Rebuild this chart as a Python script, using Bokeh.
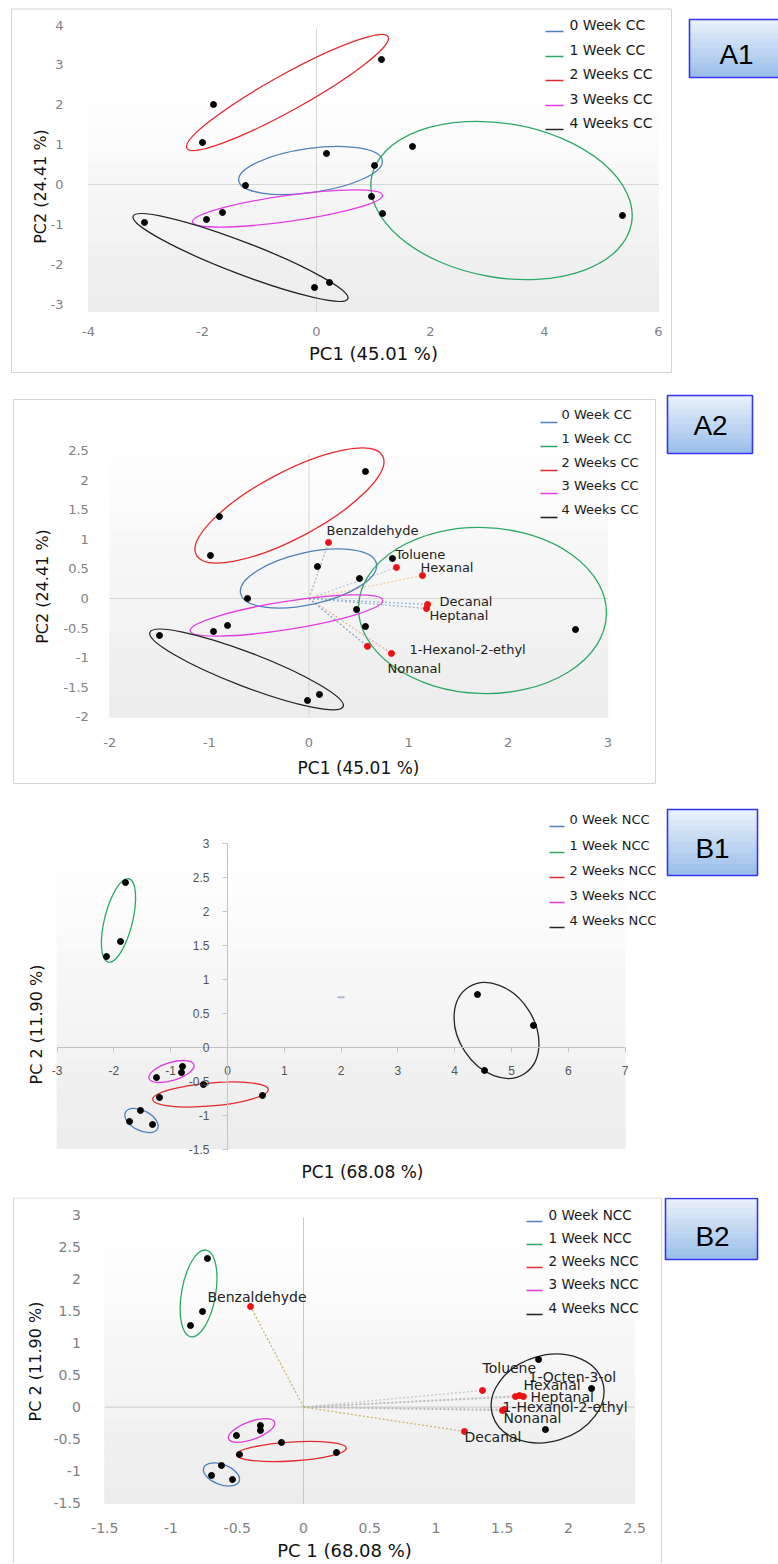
import math
from bokeh.plotting import figure
from bokeh.models import Range1d, LinearAxis, FixedTicker, Label, CustomJSTickFormatter
from bokeh.layouts import column
from bokeh.core.properties import value
from bokeh.embed import file_html
from bokeh.resources import INLINE

# ------------------------------------------------------------------ data
cc_groups = ["0 Week CC", "1 Week CC", "2 Weeks CC", "3 Weeks CC", "4 Weeks CC"]
ncc_groups = ["0 Week NCC", "1 Week NCC", "2 Weeks NCC", "3 Weeks NCC", "4 Weeks NCC"]
sample_group = [0, 0, 0, 1, 1, 1, 2, 2, 2, 3, 3, 3, 4, 4, 4]
group_colors = ["#4f81bd", "#2ca866", "#e42a2d", "#e23ce2", "#262626"]

# A1 : score plot (CC)
a1_pc1 = [0.175, 1.018, -1.246, 1.158, 1.684, 5.368, -1.807, -2.0, 1.14,
          0.965, -1.649, -1.93, -3.018, -0.035, 0.228]
a1_pc2 = [0.778, 0.477, -0.025, -0.728, 0.953, -0.778, 2.007, 1.054, 3.136,
          -0.301, -0.702, -0.878, -0.953, -2.584, -2.459]
a1_ell_pc1 = [-0.105, 3.246, -0.509, -0.509, -1.333]
a1_ell_pc2 = [0.351, -0.401, 2.308, -0.602, -1.831]
a1_ell_w = [145, 264, 230, 192, 230]
a1_ell_h = [44, 154, 36, 26, 32]
a1_ell_angle = [8, -10, 29, 8, -21]
a1_xticks = [-4, -2, 0, 2, 4, 6]
a1_yticks = [-3, -2, -1, 0, 1, 2, 3, 4]

# A2 : biplot (CC)
a2_pc1 = [0.085, 0.507, -0.617, 0.567, 0.838, 2.676, 0.567, -0.899, -0.989,
          0.477, -0.818, -0.959, -1.501, -0.015, 0.105]
a2_pc2 = [0.541, 0.338, 0.0, -0.474, 0.677, -0.525, 2.149, 1.387, 0.728,
          -0.186, -0.457, -0.558, -0.626, -1.726, -1.624]
a2_ell_pc1 = [-0.005, 1.742, -0.196, -0.226, -0.627]
a2_ell_pc2 = [0.338, -0.203, 1.574, -0.288, -1.201]
a2_ell_w = [139, 248, 211, 195, 207]
a2_ell_h = [52, 166, 66, 28, 34]
a2_ell_angle = [12.5, -2, 28, 9, -21]
a2_var_names = ["Benzaldehyde", "Toluene", "Hexanal", "Decanal", "Heptanal",
                "1-Hexanol-2-ethyl", "Nonanal"]
a2_var_pc1 = [0.196, 0.878, 1.139, 1.19, 1.18, 0.828, 0.587]
a2_var_pc2 = [0.948, 0.525, 0.389, -0.10, -0.17, -0.93, -0.81]
a2_lbl_dx = [-2, -1, -2, 12, 3, 18, 20]
a2_lbl_dy = [-12, -13, -8, -3, 7, -4, 22]
a2_line_colors = ["#aac39a", "#c3cbd8", "#f2cf98", "#8fb8e0", "#a3b4cc", "#e8b49a", "#8ea6c6"]
a2_xticks = [-2, -1, 0, 1, 2, 3]
a2_yticks = [-2, -1.5, -1, -0.5, 0, 0.5, 1, 1.5, 2, 2.5]

# B1 : score plot (NCC)
b1_pc1 = [-1.532, -1.725, -1.32, -1.796, -1.884, -2.13, -0.423, -1.197, 0.616,
          -0.792, -0.81, -1.25, 4.401, 5.387, 4.525]
b1_pc2 = [-0.926, -1.088, -1.132, 2.426, 1.559, 1.338, -0.544, -0.735, -0.706,
          -0.279, -0.368, -0.441, 0.779, 0.324, -0.338]
b1_ell_pc1 = [-1.514, -1.919, -0.299, -0.986, 4.736]
b1_ell_pc2 = [-1.074, 1.868, -0.691, -0.353, 0.25]
b1_ell_w = [36, 86, 116, 47, 103]
b1_ell_h = [20, 28, 23, 18, 76]
b1_ell_angle = [-27, 76, 5, 17, -57]
b1_extra_pc1 = [2.0]
b1_extra_pc2 = [0.74]
b1_xticks = [-3, -2, -1, 0, 1, 2, 3, 4, 5, 6, 7]
b1_yticks = [-1.5, -1, -0.5, 0, 0.5, 1, 1.5, 2, 2.5, 3]

# B2 : biplot (NCC)
b2_pc1 = [-0.619, -0.694, -0.536, -0.725, -0.762, -0.853, -0.166, -0.483, 0.249,
          -0.325, -0.325, -0.506, 1.774, 2.174, 1.826]
b2_pc2 = [-0.91, -1.065, -1.128, 2.315, 1.489, 1.271, -0.551, -0.738, -0.707,
          -0.287, -0.364, -0.442, 0.741, 0.29, -0.349]
b2_ell_pc1 = [-0.619, -0.792, -0.091, -0.392, 1.842]
b2_ell_pc2 = [-1.05, 1.77, -0.692, -0.364, 0.134]
b2_ell_w = [38, 88, 110, 49, 115]
b2_ell_h = [20, 34, 19, 18, 86]
b2_ell_angle = [-21, 80, 3.5, 20, 17]
b2_var_names = ["Benzaldehyde", "Toluene", "1-Octen-3-ol", "Hexanal", "Heptanal",
                "1-Hexanol-2-ethyl", "Nonanal", "Decanal"]
b2_var_pc1 = [-0.4, 1.351, 1.63, 1.6, 1.66, 1.517, 1.502, 1.215]
b2_var_pc2 = [1.567, 0.259, 0.18, 0.165, 0.165, -0.037, -0.053, -0.38]
b2_lbl_dx = [-43, 0, 9, 8, 7, -2, 1, 0]
b2_lbl_dy = [-9, -22, -19, -12, 0, -2, 7, 6]
b2_line_colors = ["#c8b46e", "#c8c8c8", "#c8c8c8", "#c0c0c0", "#c0c0c0", "#b8b8b8", "#b8b8b8", "#c8b46e"]
b2_xticks = [-1.5, -1, -0.5, 0, 0.5, 1, 1.5, 2, 2.5]
b2_yticks = [-1.5, -1, -0.5, 0, 0.5, 1, 1.5, 2, 2.5, 3]

# ------------------------------------------------------------------ helpers
W = 778
FONT = "DejaVu Sans"


def panel(T, H, x_zero, x_per, y_zero, y_per):
    fx = lambda px: (px - x_zero) / x_per
    fy = lambda py: (y_zero - py) / y_per
    p = figure(width=W, height=H, x_range=Range1d(fx(0), fx(W)), y_range=Range1d(fy(T + H), fy(T)),
               output_backend="svg", toolbar_location=None,
               x_axis_location=None, y_axis_location=None, min_border=0,
               min_border_left=0, min_border_right=0, min_border_top=0, min_border_bottom=0)
    p.outline_line_color = None
    p.grid.visible = False
    p.background_fill_color = "white"
    p.border_fill_color = "white"
    return p, fx, fy


def tick_fmt():
    return CustomJSTickFormatter(code="return String(tick);")


def axes(p, xticks, yticks, x_at, y_at, xs, ys, size="13px", color="#7f7f7f", font=FONT,
         line_color=None, tick_out=0):
    for ticks, side, stand, loc in ((xticks, "below", xs, y_at), (yticks, "left", ys, x_at)):
        ax = LinearAxis(fixed_location=loc, ticker=FixedTicker(ticks=ticks), formatter=tick_fmt(),
                        bounds=(min(ticks), max(ticks)),
                        axis_line_color=line_color, major_tick_line_color=line_color,
                        minor_tick_line_color=None, major_tick_in=0, major_tick_out=tick_out,
                        major_label_standoff=stand, major_label_text_font=font,
                        major_label_text_font_size=size, major_label_text_color=color)
        p.add_layout(ax, side)


def gradient(p, xl, xr, ytop, ybot, n=16, c0=(255, 255, 255), c1=(236, 236, 236)):
    tops, bots, cols = [], [], []
    for i in range(n):
        tops.append(ytop + (ybot - ytop) * i / n)
        bots.append(ytop + (ybot - ytop) * (i + 1) / n)
        f = (i + 0.5) / n
        c = tuple(round(c0[k] + (c1[k] - c0[k]) * f) for k in range(3))
        cols.append("#%02x%02x%02x" % c)
    p.quad(left=[xl] * n, right=[xr] * n, top=tops, bottom=bots,
           fill_color=cols, line_color=cols, line_width=1)


def zero_lines(p, xl, xr, ytop, ybot, color="#d6d6d6"):
    p.segment(x0=[0, xl], y0=[ytop, 0], x1=[0, xr], y1=[ybot, 0],
              line_color=color, line_width=1)


def label_box(p, fx, fy, l, r, t, b, text, cx, cy, size="28px"):
    n = 12
    tops, bots, cols = [], [], []
    c0, c1 = (236, 242, 251), (152, 190, 232)
    for i in range(n):
        tops.append(fy(t + (b - t) * i / n))
        bots.append(fy(t + (b - t) * (i + 1) / n))
        f = (i + 0.5) / n
        c = tuple(round(c0[k] + (c1[k] - c0[k]) * f) for k in range(3))
        cols.append("#%02x%02x%02x" % c)
    p.quad(left=[fx(l)] * n, right=[fx(r)] * n, top=tops, bottom=bots,
           fill_color=cols, line_color=cols, line_width=1)
    p.quad(left=[fx(l)], right=[fx(r)], top=[fy(t)], bottom=[fy(b)],
           fill_color=None, line_color="#3434f2", line_width=1.6)
    p.text(x=[fx(cx)], y=[fy(cy)], text=[text], text_align="center", text_baseline="middle",
           text_font=value("Liberation Sans"), text_font_size=size, text_color="black")


def legend(p, fx, fy, labels, lx0, lx1, tx, ys, dy, size):
    n = len(labels)
    p.segment(x0=[fx(lx0)] * n, x1=[fx(lx1)] * n,
              y0=[fy(y + dy) for y in ys], y1=[fy(y + dy) for y in ys],
              line_color=group_colors, line_width=1.6)
    p.text(x=[fx(tx)] * n, y=[fy(y) for y in ys], text=labels, text_align="left",
           text_baseline="middle", text_font=value(FONT), text_font_size=size,
           text_color="#1a1a1a")


def border(p, fx, fy, l, r, t, b):
    p.quad(left=[fx(l)], right=[fx(r)], top=[fy(t)], bottom=[fy(b)],
           fill_color=None, line_color="#d4d4d4", line_width=1)


def titles(p, fx, fy, xt, xpos, xsize, yt, ypos, ysize):
    p.add_layout(Label(x=fx(xpos[0]), y=fy(xpos[1]), text=xt, text_align="center",
                       text_baseline="middle", text_font=FONT, text_font_size=xsize,
                       text_color="#111111"))
    p.add_layout(Label(x=fx(ypos[0]), y=fy(ypos[1]), text=yt, angle=math.pi / 2,
                       text_align="center", text_baseline="middle", text_font=FONT,
                       text_font_size=ysize, text_color="#111111"))


def scores(p, xs, ys, exs, eys, ew, eh, ea):
    p.ellipse(x=exs, y=eys, width=ew, height=eh, angle=ea, angle_units="deg",
              width_units="screen", height_units="screen", fill_color=None,
              line_color=group_colors, line_width=1.3)
    p.scatter(x=xs, y=ys, size=6, fill_color="black", line_color="black")


# ------------------------------------------------------------------ A1
pa1, fx, fy = panel(0, 390, 316, 57.0, 184, 39.86)
border(pa1, fx, fy, 11, 671, 8.5, 372)
gradient(pa1, -4, 6, fy(97), fy(311))
zero_lines(pa1, -4, 6, fy(28), fy(311))
scores(pa1, a1_pc1, a1_pc2, a1_ell_pc1, a1_ell_pc2, a1_ell_w, a1_ell_h, a1_ell_angle)
axes(pa1, a1_xticks, a1_yticks, fx(87), fy(313), 13, 24)
legend(pa1, fx, fy, cc_groups, 545, 563, 569, [24, 49, 73, 98, 122], 7, "14px")
label_box(pa1, fx, fy, 689, 800, 19, 77, "A1", 736, 54)
titles(pa1, fx, fy, "PC1 (45.01 %)", (373, 353), "18px", "PC2 (24.41 %)", (40, 186), "16px")

# ------------------------------------------------------------------ A2
pa2, fx, fy = panel(390, 400, 308.5, 99.6, 598, 59.1)
border(pa2, fx, fy, 13, 655, 399, 783)
gradient(pa2, -2, 3, fy(445), fy(717))
zero_lines(pa2, -2, 3, fy(453), fy(717))
pa2.segment(x0=[0] * len(a2_var_pc1), y0=[0] * len(a2_var_pc1), x1=a2_var_pc1, y1=a2_var_pc2,
            line_color=a2_line_colors, line_dash="2 2", line_width=1.3)
scores(pa2, a2_pc1, a2_pc2, a2_ell_pc1, a2_ell_pc2, a2_ell_w, a2_ell_h, a2_ell_angle)
pa2.scatter(x=a2_var_pc1, y=a2_var_pc2, size=6, fill_color="#ee1111", line_color="#ee1111")
pa2.text(x=a2_var_pc1, y=a2_var_pc2, text=a2_var_names, x_offset=a2_lbl_dx, y_offset=a2_lbl_dy,
         text_align="left", text_baseline="middle", text_font=value(FONT),
         text_font_size="13px", text_color="#222222")
axes(pa2, a2_xticks, a2_yticks, fx(109.3), fy(717.5), 20, 21)
legend(pa2, fx, fy, cc_groups, 540, 557, 561, [414, 438, 462, 485, 509], 8, "13px")
label_box(pa2, fx, fy, 667, 752, 395, 453, "A2", 710, 425)
titles(pa2, fx, fy, "PC1 (45.01 %)", (358, 767), "17px", "PC2 (24.41 %)", (42, 586), "16px")

# ------------------------------------------------------------------ B1
pb1, fx, fy = panel(790, 407, 227, 56.8, 1047, 68.0)
gradient(pb1, -3, 7, fy(860), fy(1148))
axes(pb1, b1_xticks, b1_yticks, 0, 0, 13, 13, size="12px", color="#555555",
     font="Liberation Sans", line_color="#c4c4c4", tick_out=5)
pb1.scatter(x=b1_extra_pc1, y=b1_extra_pc2, marker="dash", size=7, line_color="#a9b9cf", line_width=2)
scores(pb1, b1_pc1, b1_pc2, b1_ell_pc1, b1_ell_pc2, b1_ell_w, b1_ell_h, b1_ell_angle)
legend(pb1, fx, fy, ncc_groups, 549, 564, 569, [819, 845, 870, 895, 920], 7, "13px")
label_box(pb1, fx, fy, 667, 757, 809, 875, "B1", 712, 848)
titles(pb1, fx, fy, "PC1 (68.08 %)", (362, 1171), "17px", "PC 2 (11.90 %)", (36, 1024), "16px")

# ------------------------------------------------------------------ B2
pb2, fx, fy = panel(1197, 366, 303, 132.5, 1406.6, 64.2)
border(pb2, fx, fy, 13, 661, 1197.5, 1620)
gradient(pb2, -1.5, 2.5, fy(1238), fy(1503))
zero_lines(pb2, -1.5, 2.5, fy(1217), fy(1503), color="#c8c8c8")
pb2.segment(x0=[0] * len(b2_var_pc1), y0=[0] * len(b2_var_pc1), x1=b2_var_pc1, y1=b2_var_pc2,
            line_color=b2_line_colors, line_dash="2 2", line_width=1.3)
scores(pb2, b2_pc1, b2_pc2, b2_ell_pc1, b2_ell_pc2, b2_ell_w, b2_ell_h, b2_ell_angle)
pb2.scatter(x=b2_var_pc1, y=b2_var_pc2, size=6, fill_color="#ee1111", line_color="#ee1111")
pb2.text(x=b2_var_pc1, y=b2_var_pc2, text=b2_var_names, x_offset=b2_lbl_dx, y_offset=b2_lbl_dy,
         text_align="left", text_baseline="middle", text_font=value(FONT),
         text_font_size="14px", text_color="#222222")
axes(pb2, b2_xticks, b2_yticks, fx(104.3), fy(1504), 18, 24, size="14px")
legend(pb2, fx, fy, ncc_groups, 526, 542, 548, [1214, 1237, 1260, 1283, 1307], 7, "13.5px")
label_box(pb2, fx, fy, 665, 757, 1198, 1259, "B2", 712, 1236)
titles(pb2, fx, fy, "PC 1 (68.08 %)", (344, 1550), "18px", "PC 2 (11.90 %)", (35, 1361), "16px")

layout = column(pa1, pa2, pb1, pb2)
open("out.html", "w").write(file_html(layout, INLINE))
